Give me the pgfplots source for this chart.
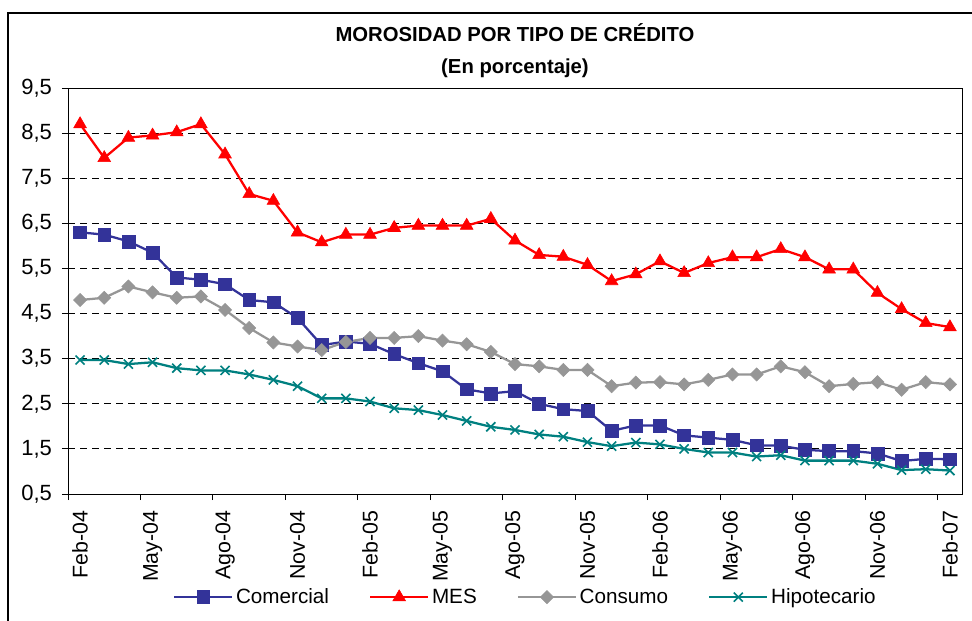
\documentclass[border=0pt]{standalone}
\usepackage{fontspec}
\setmainfont{Liberation Sans}
\usepackage{pgfplots}
\pgfplotsset{compat=1.18}
\usepackage{pgfplotstable}
\definecolor{comc}{HTML}{333399}
\definecolor{mesc}{HTML}{FF0000}
\definecolor{conc}{HTML}{969696}
\definecolor{hipc}{HTML}{008080}

\pgfplotstableread{
x y
0 6.30
1 6.25
2 6.10
3 5.85
4 5.30
5 5.25
6 5.15
7 4.80
8 4.75
9 4.40
10 3.80
11 3.88
12 3.83
13 3.60
14 3.40
15 3.22
16 2.82
17 2.73
18 2.78
19 2.50
20 2.38
21 2.34
22 1.90
23 2.02
24 2.02
25 1.80
26 1.75
27 1.70
28 1.58
29 1.57
30 1.48
31 1.45
32 1.45
33 1.40
34 1.23
35 1.28
36 1.27
}\comercial

\pgfplotstableread{
x y
0 8.70
1 7.95
2 8.40
3 8.45
4 8.52
5 8.70
6 8.03
7 7.15
8 7.00
9 6.30
10 6.08
11 6.25
12 6.25
13 6.40
14 6.45
15 6.45
16 6.45
17 6.60
18 6.12
19 5.80
20 5.76
21 5.58
22 5.22
23 5.37
24 5.66
25 5.40
26 5.62
27 5.75
28 5.75
29 5.93
30 5.75
31 5.48
32 5.48
33 4.96
34 4.60
35 4.29
36 4.20
}\mes

\pgfplotstableread{
x y
0 4.80
1 4.85
2 5.10
3 4.97
4 4.85
5 4.88
6 4.58
7 4.18
8 3.86
9 3.77
10 3.69
11 3.87
12 3.96
13 3.96
14 4.00
15 3.90
16 3.82
17 3.65
18 3.38
19 3.33
20 3.25
21 3.25
22 2.89
23 2.97
24 2.98
25 2.93
26 3.03
27 3.15
28 3.15
29 3.33
30 3.20
31 2.89
32 2.94
33 2.98
34 2.81
35 2.98
36 2.93
}\consumo

\pgfplotstableread{
x y
0 3.47
1 3.47
2 3.38
3 3.42
4 3.29
5 3.24
6 3.24
7 3.15
8 3.03
9 2.89
10 2.62
11 2.62
12 2.55
13 2.40
14 2.36
15 2.25
16 2.12
17 1.99
18 1.92
19 1.82
20 1.77
21 1.65
22 1.56
23 1.64
24 1.60
25 1.50
26 1.42
27 1.42
28 1.33
29 1.36
30 1.24
31 1.24
32 1.24
33 1.17
34 1.03
35 1.05
36 1.02
}\hipotecario

\begin{document}
\begin{tikzpicture}
\useasboundingbox (0,0) rectangle (729pt,-465.75pt);
\draw[line width=1pt] (6pt,-480pt) -- (6pt,-9.75pt) -- (740pt,-9.75pt);
\node[font=\bfseries\fontsize{15.2}{18}\selectfont, anchor=base] at (386.25pt,-31.3pt) {MOROSIDAD POR TIPO DE CRÉDITO};
\node[font=\bfseries\fontsize{15.2}{18}\selectfont, anchor=base] at (386.25pt,-54.75pt) {(En porcentaje)};
\begin{axis}[
  at={(51pt,-370.5pt)}, anchor=south west,
  scale only axis, width=670.5pt, height=304.5pt,
  xmin=-0.5, xmax=36.5, ymin=0.5, ymax=9.5,
  axis line style={line width=0.75pt},
  tick align=outside, xtick pos=bottom, ytick pos=left,
  major tick length=4.5pt,
  every tick/.style={black, line width=0.75pt},
  xticklabel shift=9pt,
  yticklabel shift=4pt,
  ytick={0.5,1.5,...,9.5},
  yticklabel style={font=\fontsize{16.5}{18}\selectfont, /pgf/number format/.cd, use comma, fixed, fixed zerofill, precision=1, assume math mode=true},
  xtick={-0.5,2.5,...,35.5},
  xticklabels={},
  extra x ticks={0,3,...,36},
  extra x tick labels={Feb-04,May-04,Ago-04,Nov-04,Feb-05,May-05,Ago-05,Nov-05,Feb-06,May-06,Ago-06,Nov-06,Feb-07},
  extra x tick style={major tick length=0pt, grid=none,
     tick label style={font=\fontsize{16}{18}\selectfont, rotate=90, anchor=east}},
  ymajorgrids,
  grid style={black, dash pattern=on 5.25pt off 3.75pt, line width=0.75pt},
  legend columns=4,
  legend style={draw=none, fill=none, at={(0.512,-0.254)}, anchor=center,
     font=\fontsize{15.5}{18}\selectfont,
     /tikz/every even column/.append style={column sep=28pt}},
  legend cell align=left,
  legend image code/.code={\draw[mark repeat=2,mark phase=2,#1] plot coordinates {(0pt,0pt) (21.75pt,0pt) (43.5pt,0pt)};},
]
\addplot[color=comc, line width=1.7pt, mark=square*, mark size=4.8pt, mark options={solid, line width=0.4pt}] table {\comercial};
\addlegendentry{Comercial}
\addplot[color=mesc, line width=1.7pt, mark=triangle*, mark size=5.5pt, mark options={solid, line width=0.4pt}] table {\mes};
\addlegendentry{MES}
\addplot[color=conc, line width=1.7pt, mark=square*, mark size=3.5pt, mark options={solid, rotate=45, line width=0.4pt}] table {\consumo};
\addlegendentry{Consumo}
\addplot[color=hipc, line width=1.7pt, mark=x, mark size=4.8pt, mark options={solid, line width=1.2pt}] table {\hipotecario};
\addlegendentry{Hipotecario}
\end{axis}
\end{tikzpicture}
\end{document}
